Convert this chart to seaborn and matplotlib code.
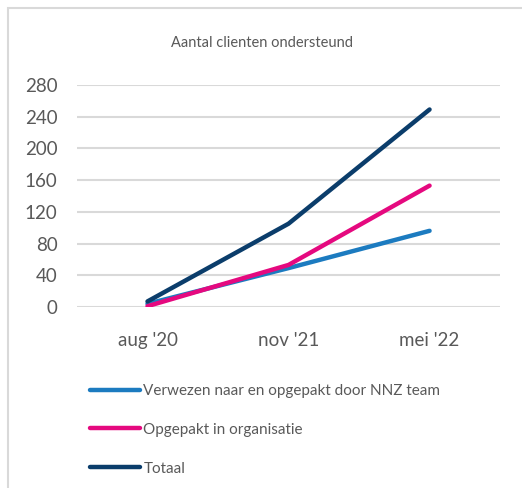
import pandas as pd
import matplotlib.pyplot as plt
import matplotlib.patches as mpatches
import seaborn as sns

# Data
periods = ["aug '20", "nov '21", "mei '22"]
verwezen = [4, 49, 96]
opgepakt = [1, 53, 153]
totaal = [7, 105, 249]
series_names = ["Verwezen naar en opgepakt door NNZ team",
                "Opgepakt in organisatie",
                "Totaal"]
colors = ["#1C7BC0", "#E5097F", "#0B3D6B"]
yticks = [0, 40, 80, 120, 160, 200, 240, 280]

df = pd.DataFrame({
    'periode': periods * 3,
    'x': [0, 1, 2] * 3,
    'aantal': verwezen + opgepakt + totaal,
    'reeks': [series_names[0]] * 3 + [series_names[1]] * 3 + [series_names[2]] * 3,
})

sns.set_style("white")
plt.rcParams['font.family'] = ['Lato', 'DejaVu Sans']
text_color = '#595959'

fig = plt.figure(figsize=(5.22, 4.88), dpi=100)
ax = fig.add_axes([0.1475, 0.371, 0.958 - 0.1475, 0.826 - 0.371])

sns.lineplot(data=df, x='x', y='aantal', hue='reeks', hue_order=series_names,
             palette=colors, linewidth=3.2, ax=ax, legend=False,
             solid_capstyle='round')

ax.set_xlim(-0.5, 2.5)
ax.set_ylim(0, 280)
ax.set_yticks(yticks)
ax.set_xticks([0, 1, 2])
ax.set_xticklabels(periods)
ax.yaxis.grid(True, color='#d9d9d9', linewidth=1.5)
ax.set_axisbelow(True)
for s in ax.spines.values():
    s.set_visible(False)
ax.tick_params(axis='both', length=0, labelsize=13.5, colors=text_color)
ax.tick_params(axis='y', pad=14)
ax.tick_params(axis='x', pad=18)
ax.set_xlabel('')
ax.set_ylabel('')

fig.text(0.502, 0.912, 'Aantal clienten ondersteund', ha='center', va='center',
         fontsize=10.5, color=text_color)

# legend below the plot
handles = [plt.Line2D([0], [0], color=c, linewidth=3.2, solid_capstyle='round')
           for c in colors]
fig.legend(handles, series_names, loc='upper left', bbox_to_anchor=(0.172, 0.213),
           frameon=False, fontsize=11, labelcolor=text_color, handlelength=3.3,
           handletextpad=0.2, labelspacing=1.62, borderpad=0, borderaxespad=0)

# light frame around the chart area
fig.patches.append(mpatches.Rectangle((0.016, -0.05), 1.1, 1.034, transform=fig.transFigure,
                                      fill=False, edgecolor='#d9d9d9', linewidth=1.5))

plt.savefig('out.png', dpi=100)
